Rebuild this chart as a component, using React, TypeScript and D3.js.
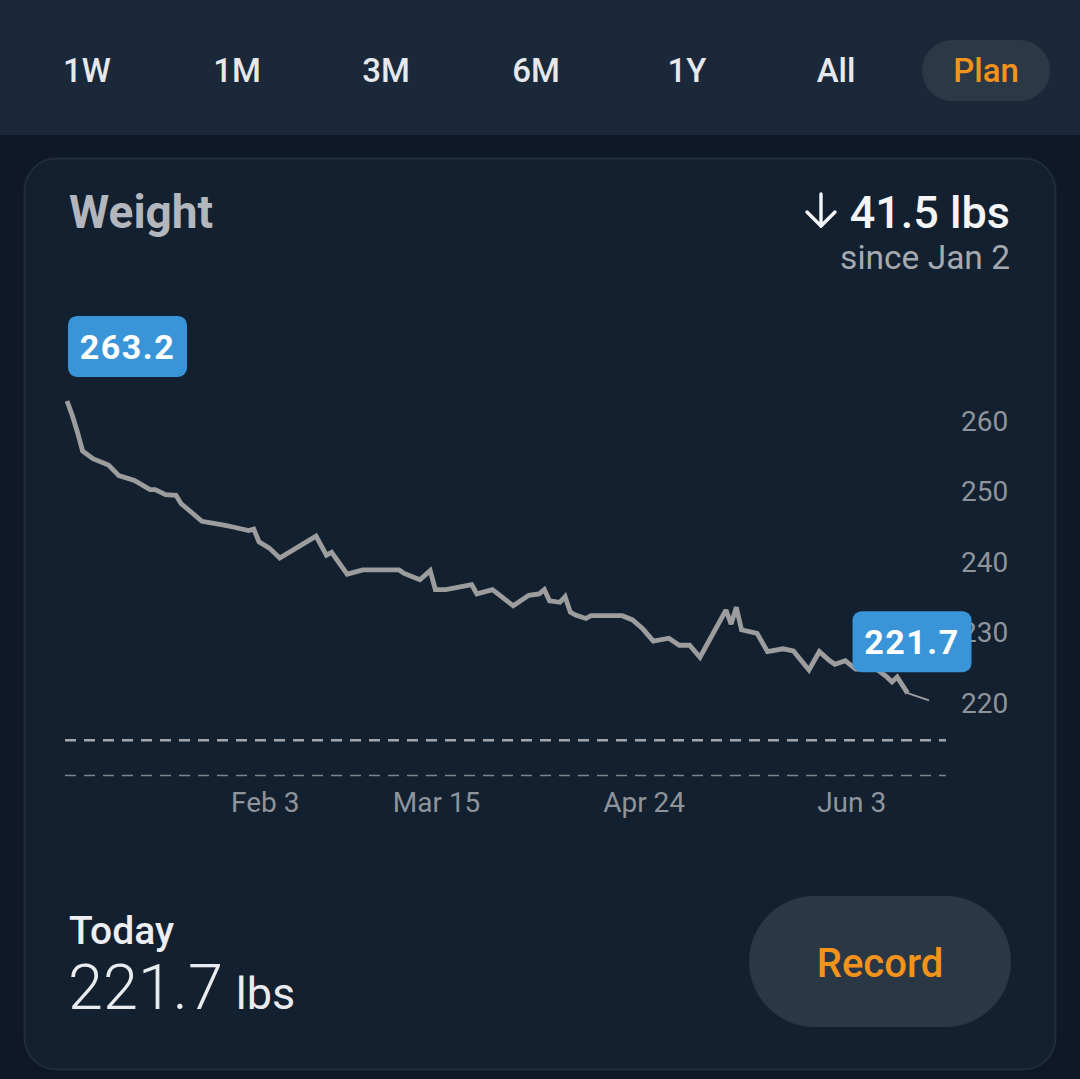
import React from "react";
import * as d3 from "d3";

const tabs = ["1W", "1M", "3M", "6M", "1Y", "All", "Plan"];
const activeTab = "Plan";

const dates = [
  "2023-01-02", "2023-01-03", "2023-01-04", "2023-01-05", "2023-01-07", "2023-01-10",
  "2023-01-12", "2023-01-15", "2023-01-18", "2023-01-19", "2023-01-21", "2023-01-23",
  "2023-01-24", "2023-01-25", "2023-01-28", "2023-02-01", "2023-02-03", "2023-02-06",
  "2023-02-07", "2023-02-08", "2023-02-10", "2023-02-12", "2023-02-19", "2023-02-21",
  "2023-02-22", "2023-02-25", "2023-02-28", "2023-03-07", "2023-03-08", "2023-03-11",
  "2023-03-13", "2023-03-14", "2023-03-16", "2023-03-21", "2023-03-22", "2023-03-25",
  "2023-03-29", "2023-04-01", "2023-04-03", "2023-04-04", "2023-04-05", "2023-04-07",
  "2023-04-08", "2023-04-09", "2023-04-10", "2023-04-12", "2023-04-13", "2023-04-19",
  "2023-04-21", "2023-04-23", "2023-04-25", "2023-04-28", "2023-04-30", "2023-05-02",
  "2023-05-04", "2023-05-09", "2023-05-10", "2023-05-11", "2023-05-12", "2023-05-15",
  "2023-05-17", "2023-05-20", "2023-05-22", "2023-05-25", "2023-05-27", "2023-05-29",
  "2023-05-30", "2023-06-01", "2023-06-03", "2023-06-07", "2023-06-09", "2023-06-10",
  "2023-06-11", "2023-06-13",
];
const weights = [
  263.2, 261.2, 258.8, 256.1, 255.0, 254.1,
  252.6, 251.9, 250.6, 250.6, 249.9, 249.8,
  248.6, 248.0, 246.1, 245.6, 245.3, 244.8,
  245.0, 243.2, 242.3, 240.9, 244.0, 241.3,
  241.7, 238.6, 239.2, 239.2, 238.7, 237.8,
  239.1, 236.4, 236.4, 237.1, 235.8, 236.4,
  234.1, 235.6, 235.8, 236.4, 234.8, 234.6,
  235.4, 233.2, 232.8, 232.3, 232.7, 232.7,
  232.1, 230.8, 229.1, 229.5, 228.5, 228.5,
  226.8, 233.5, 231.5, 233.9, 230.7, 230.2,
  227.6, 228.0, 227.7, 225.0, 227.6, 226.3,
  225.8, 226.3, 225.1, 225.1, 224.0, 223.3,
  224.0, 221.7,
];
const projectionDates = ["2023-06-13", "2023-06-17"];
const projectionWeights = [221.7, 220.7];
const goalLines = [215, 210];
const yTicks = [220, 230, 240, 250, 260];
const xTickDates = ["2023-02-03", "2023-03-15", "2023-04-24", "2023-06-03"];
const startLabel = "263.2";
const endLabel = "221.7";
const changeText = "41.5 lbs";
const sinceText = "since Jan 2";
const todayValue = "221.7";

const parse = d3.utcParse("%Y-%m-%d");
const fmt = d3.utcFormat("%b %-d");

const FONT = "Roboto, 'Noto Sans', sans-serif";

export default function App() {
  const x = d3
    .scaleUtc()
    .domain([parse("2023-01-02")!, parse("2023-06-17")!])
    .range([67, 928.3]);
  const y = d3.scaleLinear().domain([220, 260]).range([705.1, 423.5]);

  const pts = dates.map((d, i) => ({ date: parse(d)!, v: weights[i] }));
  const proj = projectionDates.map((d, i) => ({ date: parse(d)!, v: projectionWeights[i] }));
  const line = d3
    .line<{ date: Date; v: number }>()
    .x((d) => x(d.date))
    .y((d) => y(d.v));

  const plotLeft = 65;
  const plotRight = 946;

  const first = pts[0];
  const last = pts[pts.length - 1];
  const tabX = [87, 237, 386, 536, 687, 836, 986];

  return (
    <svg
      width={1080}
      height={1079}
      style={{ position: "absolute", left: 0, top: 0, display: "block" }}
      fontFamily={FONT}
    >
      <rect x={0} y={0} width={1080} height={1079} fill="#0e1826" />
      <rect x={0} y={0} width={1080} height={135} fill="#1b2839" />
      {tabs.map((t, i) => (
        <g key={t}>
          {t === activeTab && (
            <rect x={tabX[i] - 64} y={40} width={128} height={61} rx={30.5} fill="#2b3845" />
          )}
          <text
            x={tabX[i]}
            y={82}
            textAnchor="middle"
            fontSize={33}
            fontWeight={500}
            fill={t === activeTab ? "#f3931b" : "#e6e8eb"}
          >
            {t}
          </text>
        </g>
      ))}

      <rect x={24.5} y={158.5} width={1031} height={911} rx={32} fill="#132030" stroke="#1f2c3c" strokeWidth={2} />

      <text x={69} y={228} fontSize={46} fontWeight={700} fill="#b3b7bd">
        Weight
      </text>
      <g stroke="#f4f5f7" strokeWidth={3.4} fill="none" strokeLinecap="round" strokeLinejoin="round">
        <line x1={821} y1={194} x2={821} y2={226} />
        <polyline points="807,212 821,226 835,212" />
      </g>
      <text x={1010} y={228} textAnchor="end" fontSize={45} fontWeight={500} fill="#f4f5f7">
        {changeText}
      </text>
      <text x={1010} y={269} textAnchor="end" fontSize={33.5} fill="#a5a9b0">
        {sinceText}
      </text>

      {goalLines.map((g, i) => (
        <line
          key={g}
          x1={plotLeft}
          x2={plotRight}
          y1={y(g)}
          y2={y(g)}
          stroke={i === 0 ? "#a3a7ad" : "#7d838b"}
          strokeWidth={i === 0 ? 2.6 : 1.6}
          strokeDasharray="11 8"
        />
      ))}

      {yTicks.map((t) => (
        <text key={t} x={961} y={y(t) - 2} dominantBaseline="central" fontSize={28} fill="#8f949b">
          {t}
        </text>
      ))}

      {xTickDates.map((d, i) => {
        const dt = parse(d)!;
        return (
          <text
            key={d}
            x={i === 0 ? x(dt) - 2 : x(dt) - 4}
            y={812}
            textAnchor={i === 0 ? "start" : "middle"}
            fontSize={28}
            fill="#8f949b"
          >
            {fmt(dt)}
          </text>
        );
      })}

      <path d={line(proj) || ""} fill="none" stroke="#9d9d9d" strokeWidth={2} strokeLinecap="round" />
      <path d={line(pts) || ""} fill="none" stroke="#9d9d9d" strokeWidth={4.8} strokeLinejoin="miter" strokeMiterlimit={2} />

      <g>
        <rect x={x(first.date) + 1} y={y(first.v) - 85} width={119} height={61} rx={9} fill="#3a95d8" />
        <text
          x={x(first.date) + 60.5}
          y={y(first.v) - 54}
          textAnchor="middle"
          dominantBaseline="central"
          fontSize={34}
          fontWeight={700}
          fill="#ffffff"
          letterSpacing={1.5}
        >
          {startLabel}
        </text>
      </g>
      <g>
        <rect x={x(last.date) - 55} y={y(last.v) - 82} width={119} height={61} rx={9} fill="#3a95d8" />
        <text
          x={x(last.date) + 4.5}
          y={y(last.v) - 51}
          textAnchor="middle"
          dominantBaseline="central"
          fontSize={34}
          fontWeight={700}
          fill="#ffffff"
          letterSpacing={1.5}
        >
          {endLabel}
        </text>
      </g>

      <text x={69} y={944} fontSize={39} fontWeight={500} fill="#eceef1">
        Today
      </text>
      <text x={68} y={1009} fill="#e9ebee">
        <tspan fontSize={63} fontWeight={300}>{todayValue}</tspan>
        <tspan fontSize={45} fontWeight={400} dx={13}>lbs</tspan>
      </text>

      <rect x={749} y={896} width={262} height={131} rx={65.5} fill="#2a3846" />
      <text x={880} y={963} textAnchor="middle" dominantBaseline="central" fontSize={40} fontWeight={500} fill="#f3931b">
        Record
      </text>
    </svg>
  );
}
